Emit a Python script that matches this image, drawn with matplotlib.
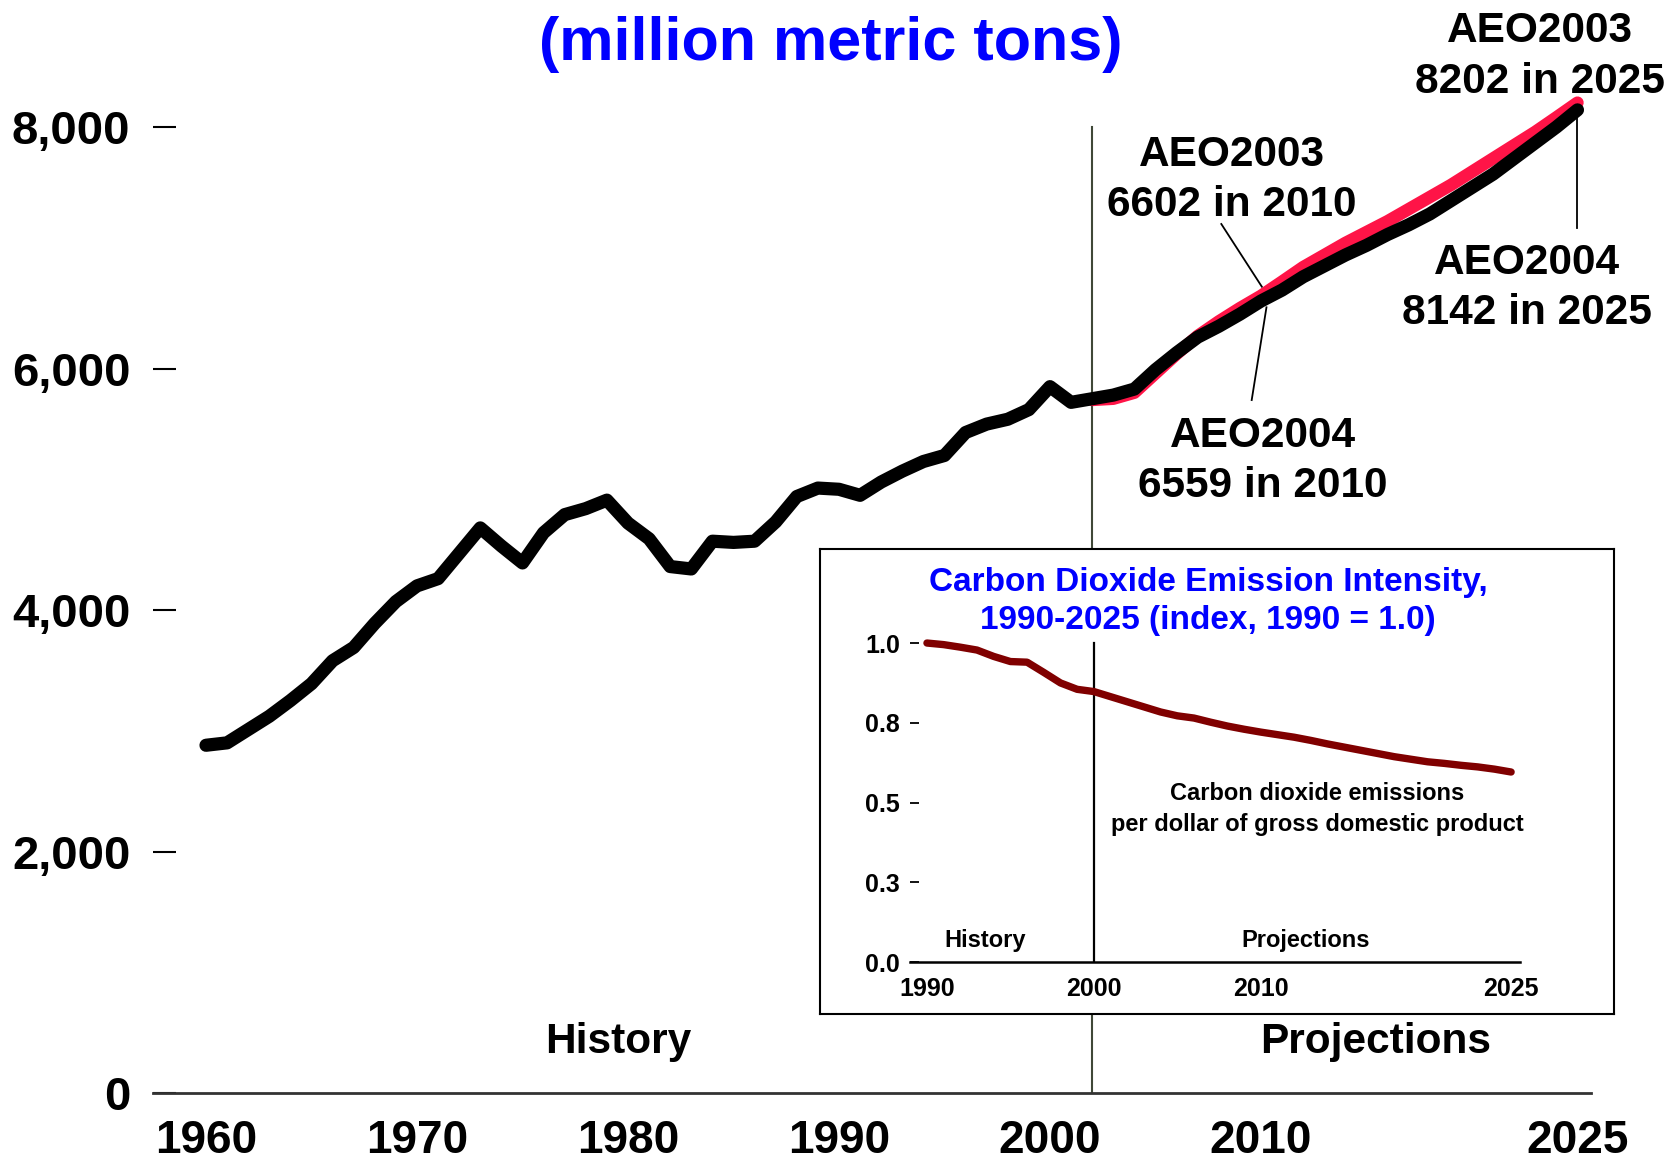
import matplotlib
matplotlib.use('Agg')
import matplotlib.pyplot as plt

plt.rcParams['font.family'] = ['Liberation Sans', 'DejaVu Sans']
plt.rcParams['font.weight'] = 'bold'

# ---------------- data ----------------
hist_years = list(range(1960, 2003))
hist_vals = [2880, 2900, 3010, 3120, 3250, 3390, 3580, 3690, 3890, 4070,
             4200, 4260, 4470, 4680, 4530, 4390, 4640, 4790, 4840, 4910,
             4720, 4590, 4360, 4340, 4570, 4560, 4570, 4730, 4940, 5010,
             5000, 4950, 5060, 5150, 5230, 5280, 5470, 5540, 5580, 5660,
             5850, 5720, 5750]

aeo2004_years = list(range(2003, 2026))
aeo2004_vals = [5780, 5830, 5990, 6130, 6260, 6350, 6450, 6559, 6650, 6760,
                6850, 6940, 7020, 7110, 7190, 7280, 7390, 7500, 7610, 7740,
                7870, 8000, 8142]

aeo2003_years = list(range(2002, 2026))
aeo2003_vals = [5740, 5750, 5800, 5960, 6120, 6270, 6390, 6500, 6602,
                6720, 6840, 6940, 7040, 7130, 7220, 7320, 7420, 7520, 7630,
                7740, 7850, 7960, 8080, 8202]

inset_years = list(range(1990, 2026))
inset_vals = [1.000, 0.995, 0.987, 0.978, 0.958, 0.942, 0.940, 0.908, 0.875, 0.855,
              0.848, 0.832, 0.816, 0.800, 0.784, 0.772, 0.765, 0.752, 0.740, 0.730,
              0.721, 0.713, 0.705, 0.695, 0.684, 0.674, 0.664, 0.654, 0.644, 0.636,
              0.628, 0.623, 0.617, 0.612, 0.605, 0.596]

y_ticks = [0, 2000, 4000, 6000, 8000]
y_labels = ['0', '2,000', '4,000', '6,000', '8,000']
x_ticks = [1960, 1970, 1980, 1990, 2000, 2010, 2025]
x_labels = ['1960', '1970', '1980', '1990', '2000', '2010', '2025']
divider_year = 2002

inset_yticks = [0.0, 0.25, 0.5, 0.75, 1.0]
inset_ylabels = ['0.0', '0.3', '0.5', '0.8', '1.0']
inset_xticks = [1990, 2000, 2010, 2025]
inset_xlabels = ['1990', '2000', '2010', '2025']
inset_divider = 2000

title = '(million metric tons)'
inset_title = 'Carbon Dioxide Emission Intensity,\n1990-2025 (index, 1990 = 1.0)'
inset_note = 'Carbon dioxide emissions\nper dollar of gross domestic product'

# ---------------- figure ----------------
fig = plt.figure(figsize=(16.81, 11.63), dpi=100)
fig.patch.set_facecolor('white')

ax = fig.add_axes([0.09117, 0.06019, 0.8554, 0.93439])
ax.set_xlim(1957.5, 2025.65)
ax.set_ylim(0, 9000)
ax.patch.set_alpha(0)
for s in ['top', 'right', 'left']:
    ax.spines[s].set_visible(False)
ax.spines['bottom'].set_linewidth(2.0)
ax.spines['bottom'].set_color('#333333')

ax.set_yticks(y_ticks)
ax.set_yticklabels(y_labels, fontsize=34, fontweight='bold')
ax.tick_params(axis='y', direction='in', length=16.5, width=1.5, pad=16.5, colors='black')
ax.set_xticks(x_ticks)
ax.set_xticklabels(x_labels, fontsize=33, fontweight='bold')
ax.tick_params(axis='x', length=0, pad=19)

# divider
ax.plot([divider_year, divider_year], [0, 8000], color='#404838', lw=1.5, zorder=1)

# lines
ax.plot(aeo2003_years, aeo2003_vals, color='#FF1447', lw=9, solid_capstyle='round',
        solid_joinstyle='round', zorder=2, clip_on=False)
ax.plot(hist_years + aeo2004_years, hist_vals + aeo2004_vals, color='black', lw=9.5,
        solid_capstyle='round', solid_joinstyle='round', zorder=3, clip_on=False)

# leader lines
ax.plot([2008.12, 2010.04], [7197, 6678], color='black', lw=1.3, zorder=4)
ax.plot([2010.26, 2009.56], [6507, 5739], color='black', lw=1.3, zorder=4)
ax.plot([2024.98, 2024.98], [8125, 7164], color='black', lw=1.3, zorder=4)

lab_kw = dict(ha='center', va='center', fontsize=30.5, fontweight='bold',
              linespacing=1.35, color='black')
ax.text(2008.63, 7561, 'AEO2003\n6602 in 2010', **lab_kw)
ax.text(2010.09, 5234, 'AEO2004\n6559 in 2010', **lab_kw)
ax.text(2023.22, 8584, 'AEO2003\n8202 in 2025', clip_on=False, **lab_kw)
ax.text(2022.6, 6667, 'AEO2004\n8142 in 2025', **lab_kw)

ax.text(1979.55, 331, 'History', ha='center', va='baseline', fontsize=30.5, fontweight='bold')
ax.text(2015.45, 331, 'Projections', ha='center', va='baseline', fontsize=30.5, fontweight='bold')

fig.text(0.4943, 0.9484, title, ha='center', va='baseline', fontsize=44,
         fontweight='bold', color='#0000FF')

# ---------------- inset ----------------
box = fig.add_axes([0.4878, 0.1281, 0.4723, 0.3998], zorder=5)
box.set_facecolor('white')
box.set_xticks([])
box.set_yticks([])
for s in box.spines.values():
    s.set_linewidth(1.5)
    s.set_color('black')

iax = fig.add_axes([0.5413, 0.17257, 0.3629, 0.30198], zorder=6)
iax.patch.set_alpha(0)
iax.set_xlim(1988.98, 2025.53)
iax.set_ylim(0, 1.1)
for s in ['top', 'right', 'left']:
    iax.spines[s].set_visible(False)
iax.spines['bottom'].set_linewidth(1.8)
iax.set_yticks(inset_yticks)
iax.set_yticklabels(inset_ylabels, fontsize=18, fontweight='bold')
iax.tick_params(axis='y', direction='in', length=6.5, width=1.3, pad=7)
iax.set_xticks(inset_xticks)
iax.set_xticklabels(inset_xlabels, fontsize=18, fontweight='bold')
iax.tick_params(axis='x', length=0, pad=10.5)

iax.plot([inset_divider, inset_divider], [0, 1.0], color='black', lw=1.6, zorder=1)
iax.plot(inset_years, inset_vals, color='#800000', lw=5.3, solid_capstyle='round',
         solid_joinstyle='round', zorder=2)

iax.text(1993.48, 0.049, 'History', ha='center', va='baseline', fontsize=17, fontweight='bold')
iax.text(2012.68, 0.049, 'Projections', ha='center', va='baseline', fontsize=17, fontweight='bold')

fig.text(0.7186, 0.4829, inset_title, ha='center', va='center', fontsize=24,
         fontweight='bold', color='#0000FF', linespacing=1.32, zorder=7)
fig.text(0.7835, 0.3044, inset_note, ha='center', va='center', fontsize=17,
         fontweight='bold', color='black', linespacing=1.4, zorder=7)

fig.savefig('out.png', dpi=100, facecolor='white')
